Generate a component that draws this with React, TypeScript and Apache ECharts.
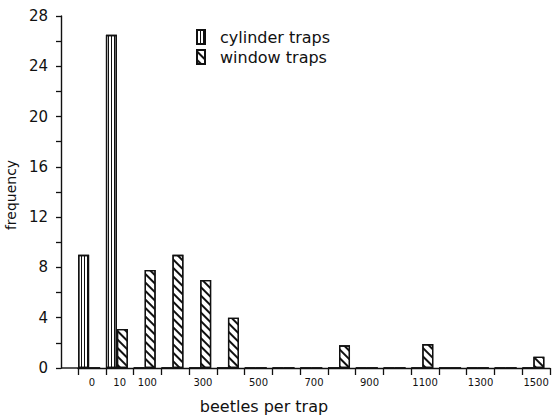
import React, { useEffect, useRef } from "react";
import * as echarts from "echarts";

// Bins of beetles caught per trap (one category per bin)
const bins = ["0", "10", "100", "200", "300", "400", "500", "600", "700", "800", "900", "1000", "1100", "1200", "1300", "1400", "1500"];
// Bins whose name is printed under the axis
const labelledBins = ["0", "10", "100", "300", "500", "700", "900", "1100", "1300", "1500"];

// Frequencies per bin
const cylinderTraps = [9, 26.5, 0, 0, 0, 0, 0, 0, 0, 0, 0, 0, 0, 0, 0, 0, 0];
const windowTraps = [0, 3.1, 7.8, 9, 7, 4, 0, 0, 0, 1.8, 0, 0, 1.9, 0, 0, 0, 0.9];

// Frequency axis: ticks every 2, labels every 4
const yMax = 28;
const yStep = 2;
const yLabelStep = 4;

const INK = "#111";
const FONT = "DejaVu Sans";

export default function App() {
  const ref = useRef<HTMLDivElement>(null);

  useEffect(() => {
    if (!ref.current) return;
    const chart = echarts.init(ref.current, undefined, { renderer: "svg" });

    const gridLeft = 78;
    const gridBottom = 48;
    const axisX = 61;
    const baseY = 416 - gridBottom;

    chart.setOption({
      animation: false,
      backgroundColor: "#fff",
      textStyle: { fontFamily: FONT, color: INK },
      grid: { left: gridLeft, right: 2, top: 16, bottom: gridBottom, containLabel: false, outerBoundsMode: "none" },
      legend: {
        orient: "vertical",
        left: 191,
        top: 24,
        icon: "rect",
        itemWidth: 8,
        itemHeight: 14,
        itemGap: 4,
        data: ["cylinder traps", "window traps"],
        textStyle: { fontFamily: FONT, fontSize: 16, color: INK, padding: [0, 0, 0, 10] },
      },
      xAxis: {
        type: "category",
        data: bins,
        name: "beetles per trap",
        nameLocation: "middle",
        nameGap: 30,
        nameTextStyle: { fontFamily: FONT, fontSize: 16, color: INK, padding: [0, 100, 0, 0] },
        axisLine: { lineStyle: { color: INK, width: 1.4 } },
        axisTick: { show: true, interval: 0, length: 7, alignWithLabel: false, lineStyle: { color: INK, width: 1.3 } },
        axisLabel: {
          interval: (_i: number, v: string) => labelledBins.includes(v),
          fontFamily: FONT,
          fontSize: 10,
          color: INK,
          margin: 9,
        },
        splitLine: { show: false },
      },
      yAxis: {
        type: "value",
        min: 0,
        max: yMax,
        interval: yStep,
        offset: gridLeft - axisX,
        name: "frequency",
        nameLocation: "middle",
        nameGap: 42,
        nameTextStyle: { fontFamily: FONT, fontSize: 14, color: INK, padding: [0, 6, 0, 0] },
        axisLine: { show: true, lineStyle: { color: INK, width: 1.4 } },
        axisTick: { show: true, length: 5, lineStyle: { color: INK, width: 1.3 } },
        axisLabel: {
          formatter: (v: number) => (v % yLabelStep === 0 ? String(v) : ""),
          fontFamily: FONT,
          fontSize: 15,
          color: INK,
          margin: 13,
        },
        splitLine: { show: false },
      },
      series: [
        {
          name: "cylinder traps",
          type: "bar",
          data: cylinderTraps,
          barWidth: 11,
          itemStyle: {
            color: "#fff",
            borderColor: INK,
            borderWidth: 1.3,
            decal: {
              symbol: "rect",
              symbolSize: 1,
              color: INK,
              backgroundColor: "#fff",
              dashArrayX: [1, 2],
              dashArrayY: [2, 0],
              rotation: 0,
            },
          },
        },
        {
          name: "window traps",
          type: "bar",
          data: windowTraps,
          barWidth: 11,
          itemStyle: {
            color: "#fff",
            borderColor: INK,
            borderWidth: 1.3,
            decal: {
              symbol: "rect",
              symbolSize: 1,
              color: INK,
              backgroundColor: "#fff",
              dashArrayX: [6, 0],
              dashArrayY: [1.6, 3.4],
              rotation: Math.PI / 4,
            },
          },
        },
        {
          name: "spacer",
          type: "bar",
          data: bins.map(() => 0),
          barWidth: 5.5,
          barGap: 0,
          itemStyle: { color: "transparent", borderWidth: 0 },
          silent: true,
        },
      ],
      graphic: [
        {
          type: "line",
          shape: { x1: axisX, y1: baseY, x2: gridLeft, y2: baseY },
          style: { stroke: INK, lineWidth: 1.4 },
        },
      ],
    });

    return () => chart.dispose();
  }, []);

  return <div ref={ref} style={{ position: "fixed", left: 0, top: 0, width: 552, height: 416 }} />;
}
